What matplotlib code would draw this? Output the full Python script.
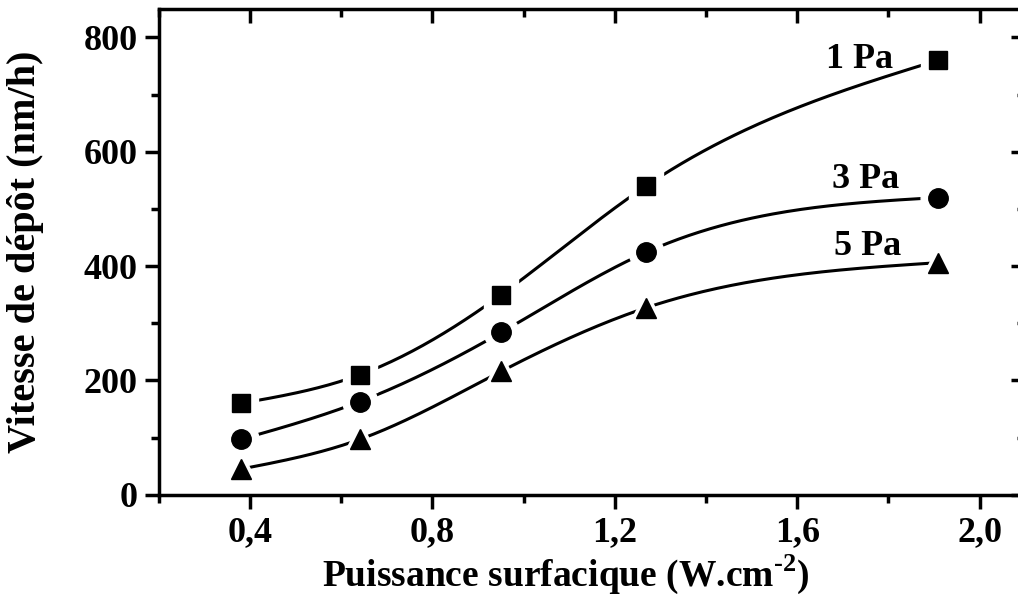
import numpy as np
import matplotlib
matplotlib.use("Agg")
import matplotlib.pyplot as plt
from matplotlib.ticker import MultipleLocator

# puissance surfacique (W/cm2) et vitesse de dépôt (nm/h) pour chaque pression
puissance = [0.38, 0.641, 0.951, 1.268, 1.908]
v_1pa = [160, 210, 350, 540, 760]
v_3pa = [97, 163, 284, 424, 520]
v_5pa = [45, 97, 216, 327, 406]
pressions = ["1 Pa", "3 Pa", "5 Pa"]

plt.rcParams['font.family'] = ['Liberation Serif', 'DejaVu Serif']
plt.rcParams['font.weight'] = 'bold'
plt.rcParams['mathtext.fontset'] = 'custom'
plt.rcParams['mathtext.rm'] = 'Liberation Serif:bold'
plt.rcParams['mathtext.bf'] = 'Liberation Serif:bold'


def spline_naturelle(x, y, n=200):
    # spline cubique naturelle, pour lisser les courbes entre les points
    x = np.asarray(x, float)
    y = np.asarray(y, float)
    k = len(x)
    h = np.diff(x)
    A = np.zeros((k, k))
    b = np.zeros(k)
    A[0, 0] = A[-1, -1] = 1
    for i in range(1, k - 1):
        A[i, i - 1] = h[i - 1]
        A[i, i] = 2 * (h[i - 1] + h[i])
        A[i, i + 1] = h[i]
        b[i] = 6 * ((y[i + 1] - y[i]) / h[i] - (y[i] - y[i - 1]) / h[i - 1])
    M = np.linalg.solve(A, b)
    xs = np.linspace(x[0], x[-1], n)
    idx = np.clip(np.searchsorted(x, xs) - 1, 0, k - 2)
    x0, x1 = x[idx], x[idx + 1]
    hi = x1 - x0
    ys = (M[idx] * (x1 - xs) ** 3 / (6 * hi) + M[idx + 1] * (xs - x0) ** 3 / (6 * hi)
          + (y[idx] / hi - M[idx] * hi / 6) * (x1 - xs)
          + (y[idx + 1] / hi - M[idx + 1] * hi / 6) * (xs - x0))
    return xs, ys


fig = plt.figure(figsize=(10.18, 5.94), dpi=100)
ax = fig.add_axes([0.156, 0.167, 0.851, 0.818])

series = [(v_1pa, 's', 13), (v_3pa, 'o', 14), (v_5pa, '^', 15)]
for vals, m, ms in series:
    xs, ys = spline_naturelle(puissance, vals)
    ax.plot(xs, ys, color='black', lw=2.2, zorder=2)
    # halo blanc autour des symboles pour couper la courbe
    ax.plot(puissance, vals, ls='none', marker=m, ms=ms + 11, mfc='white', mec='white', zorder=3)
    ax.plot(puissance, vals, ls='none', marker=m, ms=ms, mfc='black', mec='black', zorder=4)

ax.text(1.737, 762, pressions[0], fontsize=26, ha='center', va='center')
ax.text(1.75, 551, pressions[1], fontsize=26, ha='center', va='center')
ax.text(1.755, 434, pressions[2], fontsize=26, ha='center', va='center')

ax.set_xlim(0.2, 2.1)
ax.set_ylim(0, 850)
ax.xaxis.set_major_locator(MultipleLocator(0.4))
ax.xaxis.set_minor_locator(MultipleLocator(0.2))
ax.yaxis.set_major_locator(MultipleLocator(200))
ax.yaxis.set_minor_locator(MultipleLocator(100))
ax.xaxis.set_major_formatter(lambda v, p: f"{v:.1f}".replace('.', ','))
ax.yaxis.set_major_formatter(lambda v, p: f"{v:.0f}")

for s in ax.spines.values():
    s.set_linewidth(2.5)

ax.tick_params(which='both', direction='out', width=2.5, labelsize=26, pad=5)
ax.tick_params(which='major', length=10)
ax.tick_params(which='minor', length=6)

# graduations internes en haut et à droite
top = ax.secondary_xaxis('top')
top.xaxis.set_major_locator(MultipleLocator(0.4))
top.xaxis.set_minor_locator(MultipleLocator(0.2))
top.tick_params(which='both', direction='in', width=2.5, labeltop=False)
top.tick_params(which='major', length=10)
top.tick_params(which='minor', length=6)
right = ax.secondary_yaxis('right')
right.yaxis.set_major_locator(MultipleLocator(200))
right.yaxis.set_minor_locator(MultipleLocator(100))
right.tick_params(which='both', direction='in', width=2.5, labelright=False)
right.tick_params(which='major', length=10)
right.tick_params(which='minor', length=6)

ax.set_xlabel("Puissance surfacique (W.cm$^{\\text{-2}}$)", fontsize=27, fontweight='bold')
ax.xaxis.set_label_coords(0.47, -0.118)
ax.set_ylabel("Vitesse de dépôt (nm/h)", fontsize=29, fontweight='bold')
ax.yaxis.set_label_coords(-0.133, 0.50)

fig.savefig("out.png", dpi=100)
